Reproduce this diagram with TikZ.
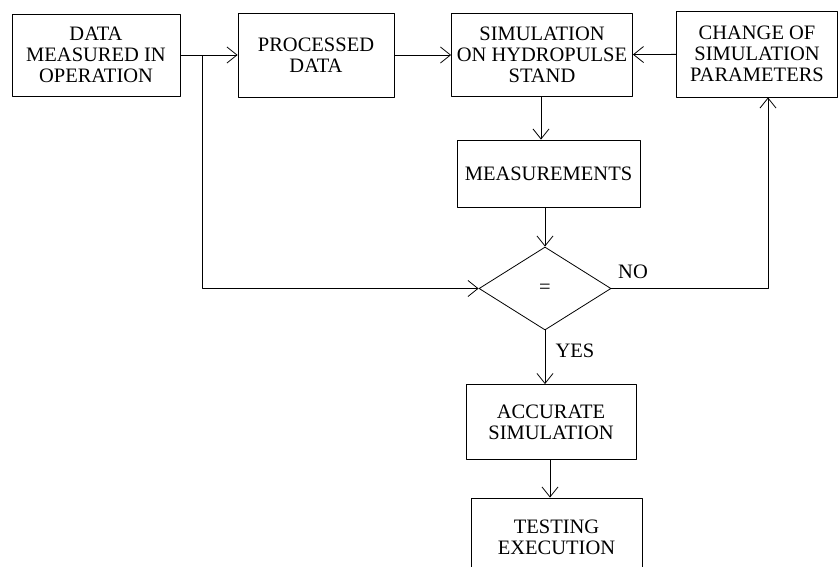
\documentclass[tikz,border=0pt]{standalone}
\usepackage{fontspec}
\setmainfont{Liberation Serif}
\usetikzlibrary{arrows.meta,shapes.geometric}
\begin{document}
\begin{tikzpicture}[>={Straight Barb[length=10bp,width=16bp]},line join=bevel,
  line width=0.8bp,
  font=\fontsize{20.5bp}{21bp}\selectfont,
  block/.style={draw,rectangle,align=center,inner sep=0bp}]
\useasboundingbox (0bp,0bp) rectangle (839bp,-567bp);
%%
  \node (data) at (96bp,-55bp) [block,minimum width=168bp,minimum height=82bp] {DATA\\MEASURED IN\\OPERATION};
  \node (proc) at (316bp,-55bp) [block,minimum width=156bp,minimum height=84bp] {PROCESSED\\DATA};
  \node (sim) at (542bp,-55bp) [block,minimum width=181bp,minimum height=83bp] {SIMULATION\\ON HYDROPULSE\\STAND};
  \node (chg) at (757bp,-54bp) [block,minimum width=161bp,minimum height=86bp] {CHANGE OF\\SIMULATION\\PARAMETERS};
  \node (meas) at (548.5bp,-173.5bp) [block,minimum width=183bp,minimum height=67bp] {MEASUREMENTS};
  \node (cmp) at (545bp,-288.5bp) [draw,diamond,aspect=1.6,inner sep=0bp,minimum width=132bp,minimum height=83bp] {=};
  \node (acc) at (551bp,-422bp) [block,minimum width=170bp,minimum height=75bp] {ACCURATE\\SIMULATION};
  \node (test) at (556.5bp,-537bp) [block,minimum width=171bp,minimum height=78bp] {TESTING\\EXECUTION};
  \coordinate (split) at (202bp,-55bp);
  \coordinate (back) at (768bp,-288.5bp);
  \draw [->] (data) -- (proc);
  \draw [->] (split) |- (cmp.west);
  \draw [->] (proc) -- (sim);
  \draw [->] (chg) -- (sim);
  \draw [->] (sim.south -| 541bp,0) -- (meas.north -| 541bp,0);
  \draw [->] (meas.south -| cmp.north) -- (cmp.north);
  \draw [->] (cmp.east) -- (back) -- (back |- chg.south);
  \draw (633bp,-272bp) node {NO};
  \draw [->] (cmp.south) -- (cmp.south |- acc.north);
  \draw (575bp,-351bp) node {YES};
  \draw [->] (acc.south -| 550bp,0) -- (test.north -| 550bp,0);
%
\end{tikzpicture}
\end{document}
